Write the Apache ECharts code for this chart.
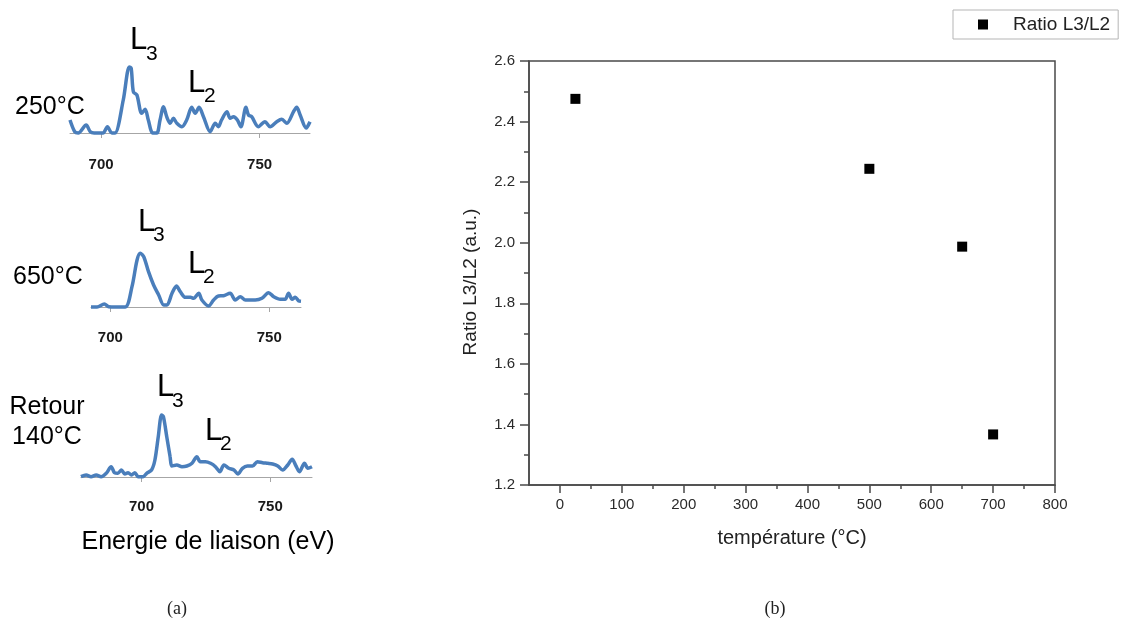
<!DOCTYPE html>
<html><head><meta charset="utf-8">
<script src="https://cdn.jsdelivr.net/npm/echarts@6/dist/echarts.min.js"></script>
<style>html,body{margin:0;padding:0;background:#fff}#c{width:1121px;height:621px}</style>
</head><body><div id="c"></div>
<script>
// ---- (a) spectra: [energy eV, intensity (a.u.)] ----
const spec250 = [[690.2,13],[691.7,1.3],[692.8,0],[695.3,8],[696.6,1.3],[697.8,0],[700.6,0],[702,6.3],[703.4,0],[704.4,0],[707,33],[708.9,66],[709.5,64.7],[710.2,41],[711.3,38],[712.8,19.7],[713.9,23.7],[714.9,13],[716.3,0],[717.6,0],[718.6,13],[719.7,26.3],[720.7,16.3],[721.8,9.7],[722.8,14.7],[723.9,9.7],[725.5,6.3],[727,13],[728.6,25.7],[729.7,19.7],[730.9,25.7],[732.3,16.3],[734.4,1.3],[736,9.7],[737,6.3],[738,13],[739.7,21.3],[740.7,14.7],[741.8,16.3],[743,13],[744.1,6.3],[745.7,25.7],[746.5,18],[747.5,16.3],[749.6,6.3],[751.7,11.3],[753.3,6.3],[755.4,11.3],[757,13.7],[758.6,9.7],[760.7,21.3],[761.7,25.7],[762.8,18],[764.7,5],[765.9,11.3]];
const spec650 = [[693.9,0],[695.8,0],[698.1,3],[699.5,0.3],[701.6,0],[704.7,0],[706.8,20.3],[708.4,47],[709.4,53.7],[710.5,50.3],[712,35.3],[713.6,22],[715.2,12],[716.8,2],[717.8,2],[719.4,13.7],[720.8,21],[722,15.3],[723.6,9.7],[725.2,9.7],[726.2,8.7],[727.8,13.7],[728.8,7],[730.9,1],[732.5,7],[734,11],[735.6,11.3],[737.7,13.7],[739.3,7],[740.9,10.3],[742.5,7],[745.6,7],[747.7,8.7],[749.8,14.3],[751.4,10.3],[753.5,7.7],[755,7.7],[756.1,13.7],[757.2,7.7],[758.2,9.7],[759.2,6.3],[760,5.7]];
const specRetour = [[676.5,0.3],[678.5,2],[680.4,0.3],[682.4,2],[684.3,0.3],[686.3,3.7],[688.2,10.3],[689.5,4.3],[690.8,3.7],[692.2,7],[693.5,3],[694.8,4.3],[696.1,2],[697.4,4.3],[698.7,0.3],[700.6,0.3],[702,3.7],[703.9,7],[705.2,17],[706.5,40.3],[707.8,62],[708.5,60.3],[709.8,40.3],[711.1,20.3],[711.8,11],[713.7,12],[715.7,10.3],[717.6,11],[719.6,13.7],[721.5,20.3],[722.8,15.3],[724.8,15.3],[726.8,13.7],[728.7,10.3],[730.4,5.3],[732,12],[733.9,8.7],[735.9,7],[737.4,3],[739.2,8.7],[741.1,11],[743.1,11],[745,15.3],[747,14.3],[749,13.7],[750.9,13],[752.9,11],[754.8,7],[756.8,12],[758.5,17.7],[760,11],[761.3,5.3],[763.3,13.7],[764.6,8.7],[766.2,10.3]];
const specTicks = [700, 750];

// ---- (b) ratio vs temperature ----
const temperature = [25, 500, 650, 700];
const ratioL3L2 = [2.475, 2.244, 1.987, 1.367];
const xMajorTicks = [0, 100, 200, 300, 400, 500, 600, 700, 800];
const xMinorTicks = [50, 150, 250, 350, 450, 550, 650, 750];

const FONT = 'Liberation Sans, Arial, sans-serif';
const BLUE = '#4a7ebb';

function specGrid(left, top, width, height) {
  return {left: left, top: top, width: width, height: height, show: false};
}
function specX(idx, min, max, margin) {
  return {
    type: 'value', gridIndex: idx, min: min, max: max, position: 'bottom',
    axisLine: {show: true, onZero: false, lineStyle: {color: '#a6a6a6', width: 1}},
    axisTick: {show: true, customValues: specTicks, length: 5, lineStyle: {color: '#a6a6a6'}},
    axisLabel: {show: true, customValues: specTicks, margin: margin, fontSize: 15, fontWeight: 'bold', color: '#1a1a1a', fontFamily: FONT},
    splitLine: {show: false}
  };
}
function specY(idx, max) {
  return {type: 'value', gridIndex: idx, min: 0, max: max, show: false, splitLine: {show: false}};
}
function specSeries(idx, data) {
  return {type: 'line', xAxisIndex: idx, yAxisIndex: idx, data: data, showSymbol: false,
    smooth: 0.3, clip: false, lineStyle: {color: BLUE, width: 3.5}, itemStyle: {color: BLUE},
    silent: true};
}
function txt(x, y, s, size, extra) {
  const st = Object.assign({text: s, font: size + 'px ' + FONT, fill: '#000',
    textAlign: 'left', textVerticalAlign: 'middle', align: 'left', verticalAlign: 'middle'}, extra || {});
  return {type: 'text', x: x, y: y, style: st, silent: true};
}
function center(x, y, s, size, extra) {
  return txt(x, y, s, size, Object.assign({textAlign: 'center', align: 'center'}, extra || {}));
}

const chart = echarts.init(document.getElementById('c'), null, {renderer: 'canvas'});
chart.setOption({
  animation: false,
  backgroundColor: '#fff',
  textStyle: {fontFamily: FONT},
  grid: [
    specGrid(70, 63, 240, 70),
    specGrid(91, 247, 210, 60),
    specGrid(81, 407, 231, 70),
    {left: 529, top: 61, width: 526, height: 424, show: true, borderColor: '#4a4a4a', borderWidth: 1.5}
  ],
  xAxis: [
    specX(0, 690.2, 765.9, 24),
    specX(1, 693.9, 760, 23),
    specX(2, 676.5, 766.2, 22),
    {
      type: 'value', gridIndex: 3, min: -50, max: 800, position: 'bottom',
      name: 'température (°C)', nameLocation: 'middle', nameGap: 43,
      nameTextStyle: {fontSize: 20, color: '#222', fontFamily: FONT},
      axisLine: {show: true, onZero: false, lineStyle: {color: '#4a4a4a', width: 1.5}},
      axisTick: {show: true, customValues: xMajorTicks, length: 8, lineStyle: {color: '#4a4a4a', width: 1.5}},
      axisLabel: {show: true, customValues: xMajorTicks, margin: 12, fontSize: 15, color: '#2a2a2a', fontFamily: FONT},
      splitLine: {show: false}
    },
    {
      type: 'value', gridIndex: 3, min: -50, max: 800, position: 'bottom', offset: 0,
      axisLine: {show: false, onZero: false},
      axisTick: {show: true, customValues: xMinorTicks, length: 4, lineStyle: {color: '#4a4a4a', width: 1.5}},
      axisLabel: {show: false},
      splitLine: {show: false}
    }
  ],
  yAxis: [
    specY(0, 70), specY(1, 60), specY(2, 70),
    {
      type: 'value', gridIndex: 3, min: 1.2, max: 2.6, interval: 0.2,
      axisLine: {show: true, onZero: false, lineStyle: {color: '#4a4a4a', width: 1.5}},
      axisTick: {show: true, length: 9, lineStyle: {color: '#4a4a4a', width: 1.5}},
      minorTick: {show: true, splitNumber: 2, length: 5, lineStyle: {color: '#4a4a4a', width: 1.5}},
      axisLabel: {margin: 14, fontSize: 15, color: '#2a2a2a', fontFamily: FONT, formatter: v => v.toFixed(1)},
      splitLine: {show: false}
    }
  ],
  legend: {
    show: true, left: 953, top: 10, orient: 'horizontal',
    padding: [5, 8, 5, 25], borderColor: '#b5b5b5', borderWidth: 1,
    itemWidth: 10, itemHeight: 10, icon: 'rect',
    data: ['Ratio L3/L2'],
    formatter: '{t|{name}}',
    textStyle: {rich: {t: {fontSize: 19, color: '#222', fontFamily: FONT, padding: [0, 0, 0, 20]}}}
  },
  series: [
    specSeries(0, spec250),
    specSeries(1, spec650),
    specSeries(2, specRetour),
    {
      name: 'Ratio L3/L2', type: 'scatter', xAxisIndex: 3, yAxisIndex: 3,
      symbol: 'rect', symbolSize: 10, itemStyle: {color: '#000', opacity: 1},
      data: temperature.map((t, i) => [t, ratioL3L2[i]])
    }
  ],
  graphic: [
    // panel labels
    txt(15, 107, '250°C', 25),
    txt(13, 277, '650°C', 25),
    center(47, 407, 'Retour', 25),
    center(47, 437, '140°C', 25),
    // L3 / L2 markers
    txt(130, 40, 'L', 31), txt(146, 54.5, '3', 21),
    txt(188, 83.5, 'L', 31), txt(204, 96.5, '2', 21),
    txt(138, 222.5, 'L', 31), txt(153, 235.5, '3', 21),
    txt(188, 264, 'L', 31), txt(203, 277.5, '2', 21),
    txt(157, 387.5, 'L', 31), txt(172, 401.5, '3', 21),
    txt(205, 431, 'L', 31), txt(220, 444.5, '2', 21),
    // x title of panel (a)
    center(208, 542, 'Energie de liaison (eV)', 25),
    // y title of panel (b)
    {type: 'text', x: 471, y: 282, rotation: Math.PI / 2, silent: true,
      style: {text: 'Ratio L3/L2 (a.u.)', font: '19px ' + FONT, fill: '#222',
        textAlign: 'center', align: 'center', textVerticalAlign: 'middle', verticalAlign: 'middle'}},
    // captions
    center(177, 609, '(a)', 18, {font: '18px Liberation Serif, DejaVu Serif, serif', fill: '#222'}),
    center(775, 609, '(b)', 18, {font: '18px Liberation Serif, DejaVu Serif, serif', fill: '#222'})
  ]
});
</script>
</body></html>
